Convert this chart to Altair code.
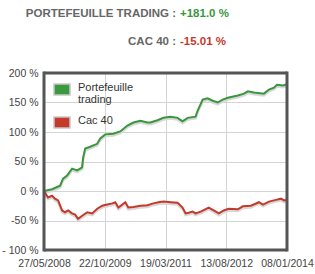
import altair as alt
import pandas as pd

# ---- data ----
green_dates = ["2008-05-27", "2008-08-03", "2008-10-10", "2008-11-04", "2008-12-08", "2009-01-19",
               "2009-03-03", "2009-04-14", "2009-04-23", "2009-05-10", "2009-06-21", "2009-08-19",
               "2009-09-14", "2009-10-26", "2010-01-02", "2010-03-02", "2010-05-01", "2010-06-21",
               "2010-08-19", "2010-10-17", "2010-11-12", "2011-01-10", "2011-03-02", "2011-04-30",
               "2011-06-29", "2011-08-10", "2011-09-22", "2011-11-28", "2011-12-15", "2012-01-27",
               "2012-03-09", "2012-04-21", "2012-06-02", "2012-07-14", "2012-08-26", "2012-11-19",
               "2013-01-09", "2013-02-12", "2013-04-03", "2013-06-27", "2013-08-09", "2013-09-20",
               "2013-10-15", "2013-12-05", "2014-01-08"]
green_values = [0, 3, 9, 21, 26, 38, 35, 40, 57, 72, 75, 80, 89, 96, 97, 101, 111, 116, 119, 116,
                116, 120, 124, 126, 124, 118, 124, 126, 136, 155, 157, 153, 150, 155, 158, 162,
                165, 169, 167, 165, 172, 175, 180, 179, 181]

red_dates = ["2008-05-27", "2008-06-30", "2008-08-03", "2008-08-28", "2008-09-23", "2008-10-27",
             "2008-11-21", "2008-12-17", "2009-01-19", "2009-02-14", "2009-03-11", "2009-04-14",
             "2009-05-27", "2009-07-08", "2009-08-19", "2009-10-01", "2009-11-12", "2009-12-25",
             "2010-01-19", "2010-02-14", "2010-04-14", "2010-05-09", "2010-06-21", "2010-08-19",
             "2010-10-17", "2010-12-07", "2011-01-19", "2011-03-02", "2011-04-30", "2011-06-29",
             "2011-08-10", "2011-09-05", "2011-09-30", "2011-11-03", "2011-11-28", "2012-01-10",
             "2012-03-18", "2012-04-29", "2012-06-11", "2012-07-23", "2012-09-03", "2012-11-19",
             "2012-12-31", "2013-03-09", "2013-05-16", "2013-06-19", "2013-08-09", "2013-10-07",
             "2013-11-18", "2013-12-14", "2014-01-08"]
red_values = [0, -11, -8, -13, -16, -33, -36, -33, -38, -40, -47, -42, -36, -38, -30, -25, -23, -21,
              -19, -28, -19, -28, -27, -25, -24, -21, -19, -18, -19, -20, -28, -38, -37, -35, -38,
              -35, -28, -33, -38, -33, -30, -31, -26, -25, -19, -23, -18, -15, -13, -16, -15.01]

series_names = ["Portefeuille trading", "Cac 40"]
series_colors = ["#3a963c", "#c4392a"]
legend_lines = [["Portefeuille", "trading"], ["Cac 40"]]
legend_swatch_colors = ["#3b9a40", "#c63a2c"]

x_ticks = ["2008-05-27", "2009-10-22", "2011-03-19", "2012-08-13", "2014-01-08"]
y_ticks = [-100, -50, 0, 50, 100, 150, 200]

title_labels = ["PORTEFEUILLE TRADING :", "CAC 40 :"]
title_values = ["+181.0 %", "-15.01 %"]
title_colors = ["#3a963c", "#c4392a"]

# ---- build tables ----
rows = []
for d, v in zip(green_dates, green_values):
    rows.append({"date": d, "value": v, "series": series_names[0]})
for d, v in zip(red_dates, red_values):
    rows.append({"date": d, "value": v, "series": series_names[1]})
df = pd.DataFrame(rows)

FONT = "Liberation Sans"
W, H = 243, 177

x_scale = alt.Scale(domain=["2008-05-27", "2014-01-08"])
y_scale = alt.Scale(domain=[-100, 200], nice=False)
x_axis = alt.Axis(values=x_ticks, format="%d/%m/%Y", title=None, grid=True,
                  gridColor="#d4d4d4", ticks=False, domain=False, labelPadding=8,
                  labelFont=FONT, labelFontSize=10.5, labelColor="#444444",
                  labelOverlap=False, labelFlush=False)
y_axis = alt.Axis(values=y_ticks, title=None, grid=True, gridColor="#d4d4d4",
                  ticks=False, domain=False, labelPadding=6,
                  labelExpr="datum.value == -100 ? '- 100 %' : datum.value + ' %'",
                  labelFont=FONT, labelFontSize=10.5, labelColor="#444444")

base = alt.Chart(df)

lines = base.mark_line(strokeWidth=2).encode(
    x=alt.X("date:T", scale=x_scale, axis=x_axis),
    y=alt.Y("value:Q", scale=y_scale, axis=y_axis),
    color=alt.Color("series:N", scale=alt.Scale(domain=series_names, range=series_colors), legend=None),
)

shadow = base.transform_calculate(sv="datum.value - 3").mark_line(
    strokeWidth=2.5, color="#d8d8d8"
).encode(
    x=alt.X("date:T", scale=x_scale, axis=x_axis),
    y=alt.Y("sv:Q", scale=y_scale, axis=y_axis),
    detail="series:N",
)

one = pd.DataFrame({"k": [0]})

# frame around the plot area
frame = [
    alt.Chart(one).mark_rule(color="#555555", strokeWidth=3).encode(
        x=alt.value(0), x2=alt.value(W), y=alt.value(0)),
    alt.Chart(one).mark_rule(color="#555555", strokeWidth=3).encode(
        x=alt.value(0), x2=alt.value(W), y=alt.value(H)),
    alt.Chart(one).mark_rule(color="#555555", strokeWidth=3).encode(
        x=alt.value(0), y=alt.value(-1.5), y2=alt.value(H + 1.5)),
    alt.Chart(one).mark_rule(color="#555555", strokeWidth=3).encode(
        x=alt.value(W), y=alt.value(-1.5), y2=alt.value(H + 1.5)),
]

# legend (drawn manually inside the plot)
legend_layers = []
for i, (c, yy) in enumerate(zip(legend_swatch_colors, [11, 44])):
    legend_layers.append(
        alt.Chart(one).mark_rect(stroke="#c8c8c8", strokeWidth=1.5, color=c).encode(
            x=alt.value(10), x2=alt.value(26), y=alt.value(yy), y2=alt.value(yy + 11))
    )
text_y = [[18, 30], [51]]
for i, lines_ in enumerate(legend_lines):
    for j, t in enumerate(lines_):
        legend_layers.append(
            alt.Chart(pd.DataFrame({"t": [t]})).mark_text(
                align="left", baseline="alphabetic", font=FONT, fontSize=11, color="#333333"
            ).encode(x=alt.value(34), y=alt.value(text_y[i][j]), text="t:N")
        )

# header texts
title_layers = []
for i, (lab, val, col) in enumerate(zip(title_labels, title_values, title_colors)):
    yy = -56 + i * 28
    title_layers.append(
        alt.Chart(pd.DataFrame({"t": [lab]})).mark_text(
            align="right", baseline="alphabetic", font=FONT, fontSize=11.5, fontWeight="bold",
            color="#666666"
        ).encode(x=alt.value(132), y=alt.value(yy), text="t:N")
    )
    title_layers.append(
        alt.Chart(pd.DataFrame({"t": [val]})).mark_text(
            align="left", baseline="alphabetic", font=FONT, fontSize=11.5, fontWeight="bold",
            color=col
        ).encode(x=alt.value(136), y=alt.value(yy), text="t:N")
    )

chart = alt.layer(shadow, lines, *frame, *legend_layers, *title_layers).properties(
    width=W, height=H,
    autosize=alt.AutoSizeParams(type="none"),
    padding={"left": 44, "top": 73, "right": 28, "bottom": 24},
    background="white",
).configure_view(stroke=None)

chart.save("out.html", embed_options={"renderer": "svg", "actions": False})
